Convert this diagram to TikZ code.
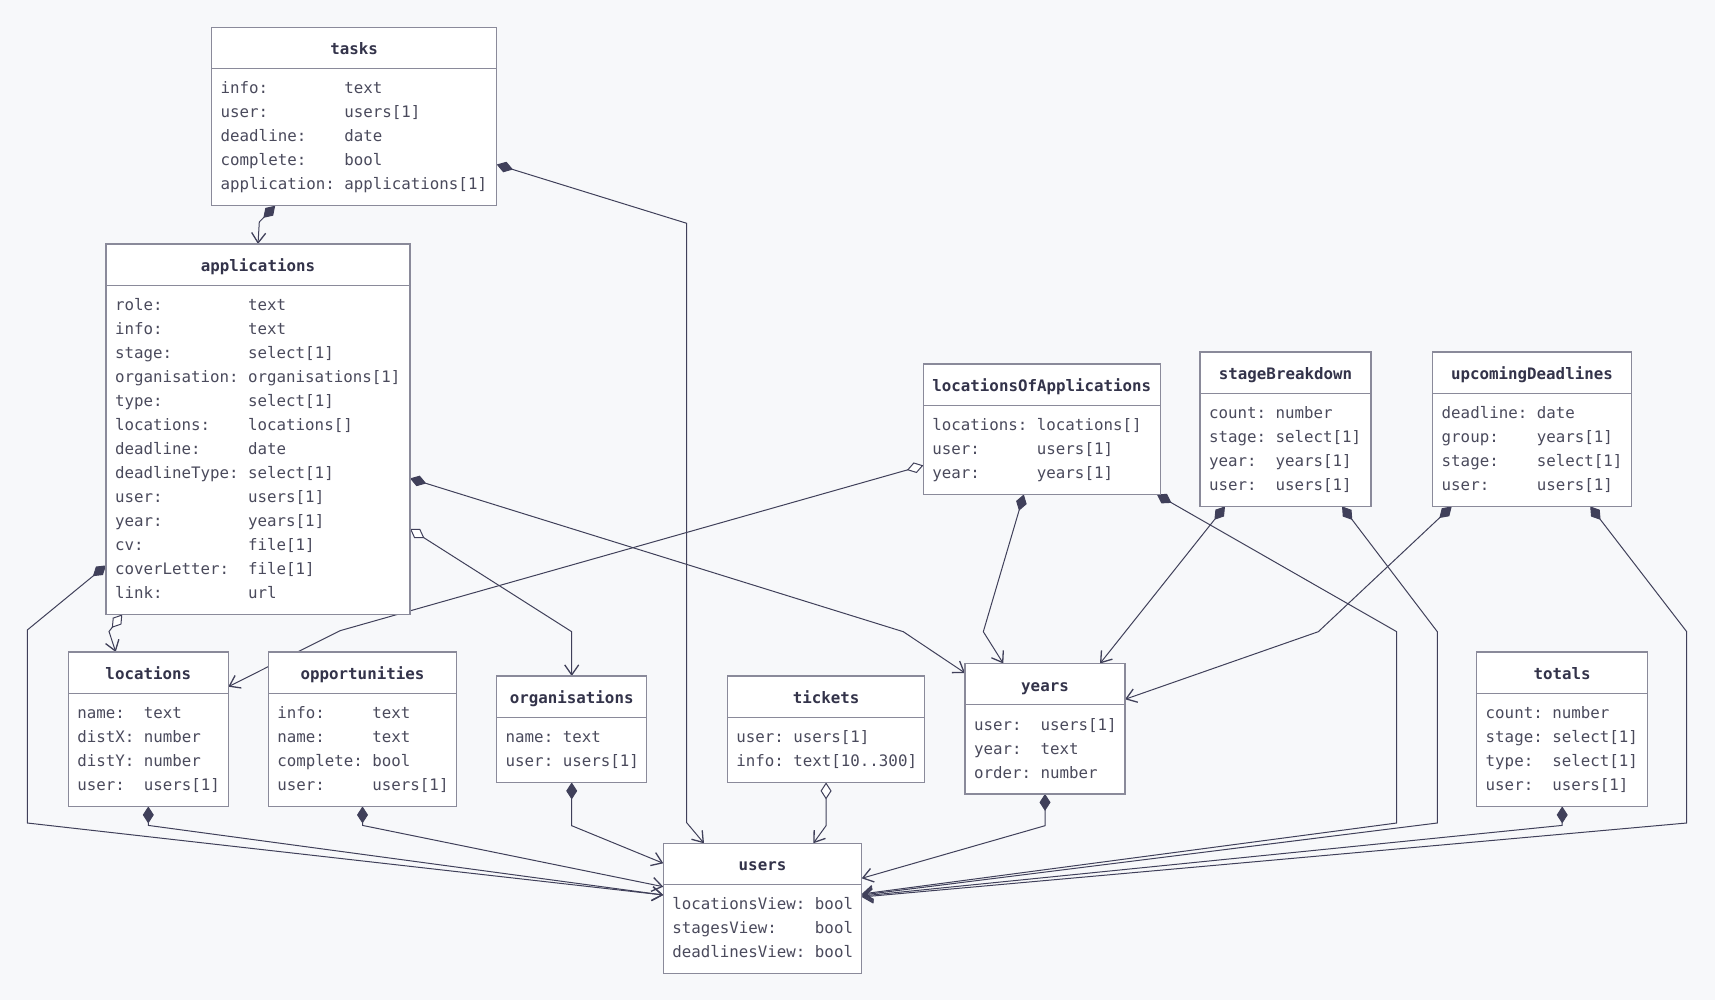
\documentclass[tikz,border=0pt]{standalone}
\usepackage{fontspec}
\setmonofont{DejaVu Sans Mono}
\usetikzlibrary{arrows.meta,shapes.multipart,backgrounds}

\definecolor{bgcol}{HTML}{F7F8FA}
\definecolor{boxline}{HTML}{8A8A9A}
\definecolor{edgecol}{HTML}{40405A}
\definecolor{titletext}{HTML}{33334A}
\definecolor{bodytext}{HTML}{4A4A5C}

\newcommand{\clstitle}[2]{\makebox[#1pt]{\rule[-13pt]{0pt}{40pt}\color{titletext}\ttfamily\bfseries\fontsize{15.8}{24}\selectfont #2}}
\newcommand{\clsbody}[3]{\parbox[c][\dimexpr 24pt*#2+16pt\relax][c]{#1pt}{\noindent\color{bodytext}\ttfamily\fontsize{15.8}{24}\selectfont\hspace*{9pt}\begin{tabular}{@{}l@{\ }l@{}}#3\end{tabular}}}

\tikzset{
  umlclass/.style={rectangle split, rectangle split parts=2, draw=boxline,
    line width=1.2pt, fill=white, inner sep=0pt, outer sep=0pt, anchor=north west},
  comp/.style={draw=edgecol, line width=1pt,
    {Diamond[length=17pt,width=11pt,fill=edgecol]}-{Straight Barb[length=10pt,width=14pt,line width=1.3pt]}},
  aggr/.style={draw=edgecol, line width=1pt,
    {Diamond[length=17pt,width=11pt,fill=white]}-{Straight Barb[length=10pt,width=14pt,line width=1.3pt]}},
}

\begin{document}
\begin{tikzpicture}[x=1pt,y=-1pt]
  \useasboundingbox (0,0) rectangle (1715,1000);

  % classes
  \node[umlclass] (tasks) at (211.7,27.3)
    {\clstitle{285}{tasks}\nodepart{two}\clsbody{285}{5}{
      info: & text\\ user: & users[1]\\ deadline: & date\\
      complete: & bool\\ application: & applications[1]}};
  \node[umlclass] (applications) at (106,244)
    {\clstitle{304}{applications}\nodepart{two}\clsbody{304}{13}{
      role: & text\\ info: & text\\ stage: & select[1]\\
      organisation: & organisations[1]\\ type: & select[1]\\
      locations: & locations[]\\ deadline: & date\\
      deadlineType: & select[1]\\ user: & users[1]\\ year: & years[1]\\
      cv: & file[1]\\ coverLetter: & file[1]\\ link: & url}};
  \node[umlclass] (locationsOfApplications) at (923.3,364)
    {\clstitle{237}{locationsOfApplications}\nodepart{two}\clsbody{237}{3}{
      locations: & locations[]\\ user: & users[1]\\ year: & years[1]}};
  \node[umlclass] (stageBreakdown) at (1200,352)
    {\clstitle{171}{stageBreakdown}\nodepart{two}\clsbody{171}{4}{
      count: & number\\ stage: & select[1]\\ year: & years[1]\\ user: & users[1]}};
  \node[umlclass] (upcomingDeadlines) at (1432.7,352)
    {\clstitle{198.5}{upcomingDeadlines}\nodepart{two}\clsbody{198.5}{4}{
      deadline: & date\\ group: & years[1]\\ stage: & select[1]\\ user: & users[1]}};
  \node[umlclass] (locations) at (68.3,652)
    {\clstitle{160}{locations}\nodepart{two}\clsbody{160}{4}{
      name: & text\\ distX: & number\\ distY: & number\\ user: & users[1]}};
  \node[umlclass] (opportunities) at (268.3,652)
    {\clstitle{188.4}{opportunities}\nodepart{two}\clsbody{188.4}{4}{
      info: & text\\ name: & text\\ complete: & bool\\ user: & users[1]}};
  \node[umlclass] (organisations) at (496.7,676)
    {\clstitle{150}{organisations}\nodepart{two}\clsbody{150}{2}{
      name: & text\\ user: & users[1]}};
  \node[umlclass] (tickets) at (727.3,676)
    {\clstitle{197.5}{tickets}\nodepart{two}\clsbody{197.5}{2}{
      user: & users[1]\\ info: & text[10..300]}};
  \node[umlclass] (years) at (965,663.5)
    {\clstitle{160}{years}\nodepart{two}\clsbody{160}{3}{
      user: & users[1]\\ year: & text\\ order: & number}};
  \node[umlclass] (totals) at (1476.7,652)
    {\clstitle{171}{totals}\nodepart{two}\clsbody{171}{4}{
      count: & number\\ stage: & select[1]\\ type: & select[1]\\ user: & users[1]}};
  \node[umlclass] (users) at (663.3,843.3)
    {\clstitle{198.4}{users}\nodepart{two}\clsbody{198.4}{3}{
      locationsView: & bool\\ stagesView: & bool\\ deadlinesView: & bool}};

  % relations, under the boxes
  \begin{scope}[on background layer]
    \fill[bgcol] (0,0) rectangle (1715,1000);
    \draw[comp] ([xshift=63.5pt]tasks.south west) -- (259.3,222) -- (applications.north);
    \draw[comp] ([yshift=-48pt]tasks.east) -- (686.7,223.3) -- (686.7,822.7)
      -- ([xshift=40.7pt]users.north west);
    \draw[aggr] ([xshift=16.3pt]applications.south west) -- (109,631.5)
      -- ([xshift=47.4pt]locations.north west);
    \draw[comp] ([yshift=49pt]applications.south west) -- (27.3,630) -- (27.3,823)
      -- ([yshift=-51.7pt]users.north west);
    \draw[comp] ([yshift=136pt]applications.south east) -- (903.3,631.7)
      -- ([yshift=-9.5pt]years.north west);
    \draw[aggr] ([yshift=85.5pt]applications.south east) -- (571.7,631.7)
      -- (organisations.north);
    \draw[aggr] ([yshift=29pt]locationsOfApplications.south west) -- (340,630.7)
      -- ([yshift=-34.7pt]locations.north east);
    \draw[comp] ([xshift=100.5pt]locationsOfApplications.south west) -- (983.3,631.7)
      -- ([xshift=-41.7pt]years.north);
    \draw[comp] ([xshift=-3.5pt]locationsOfApplications.south east) -- (1396.7,631.7)
      -- (1396.7,823) -- ([yshift=-50.7pt]users.north east);
    \draw[comp] ([xshift=25pt]stageBreakdown.south west) -- ([xshift=55pt]years.north);
    \draw[comp] ([xshift=-29pt]stageBreakdown.south east) -- (1437.3,631.7)
      -- (1437.3,823) -- ([yshift=-51.7pt]users.north east);
    \draw[comp] ([xshift=19pt]upcomingDeadlines.south west) -- (1318.3,631.7)
      -- ([yshift=-35.8pt]years.north east);
    \draw[comp] ([xshift=-41pt]upcomingDeadlines.south east) -- (1686.7,631.7)
      -- (1686.7,823) -- ([yshift=-53.7pt]users.north east);
    \draw[comp] (locations.south) -- ++(0,19) -- ([yshift=-51.7pt]users.north west);
    \draw[comp] (opportunities.south) -- ++(0,19) -- ([yshift=-43.4pt]users.north west);
    \draw[comp] (organisations.south) -- ++(0,43.3) -- ([yshift=-20pt]users.north west);
    \draw[aggr] (tickets.south) -- ++(0,43.3) -- ([xshift=150pt]users.north west);
    \draw[comp] (years.south) -- ++(0,31.8) -- ([yshift=-35pt]users.north east);
    \draw[comp] (totals.south) -- ++(0,19) -- ([yshift=-52.7pt]users.north east);
  \end{scope}
\end{tikzpicture}
\end{document}
